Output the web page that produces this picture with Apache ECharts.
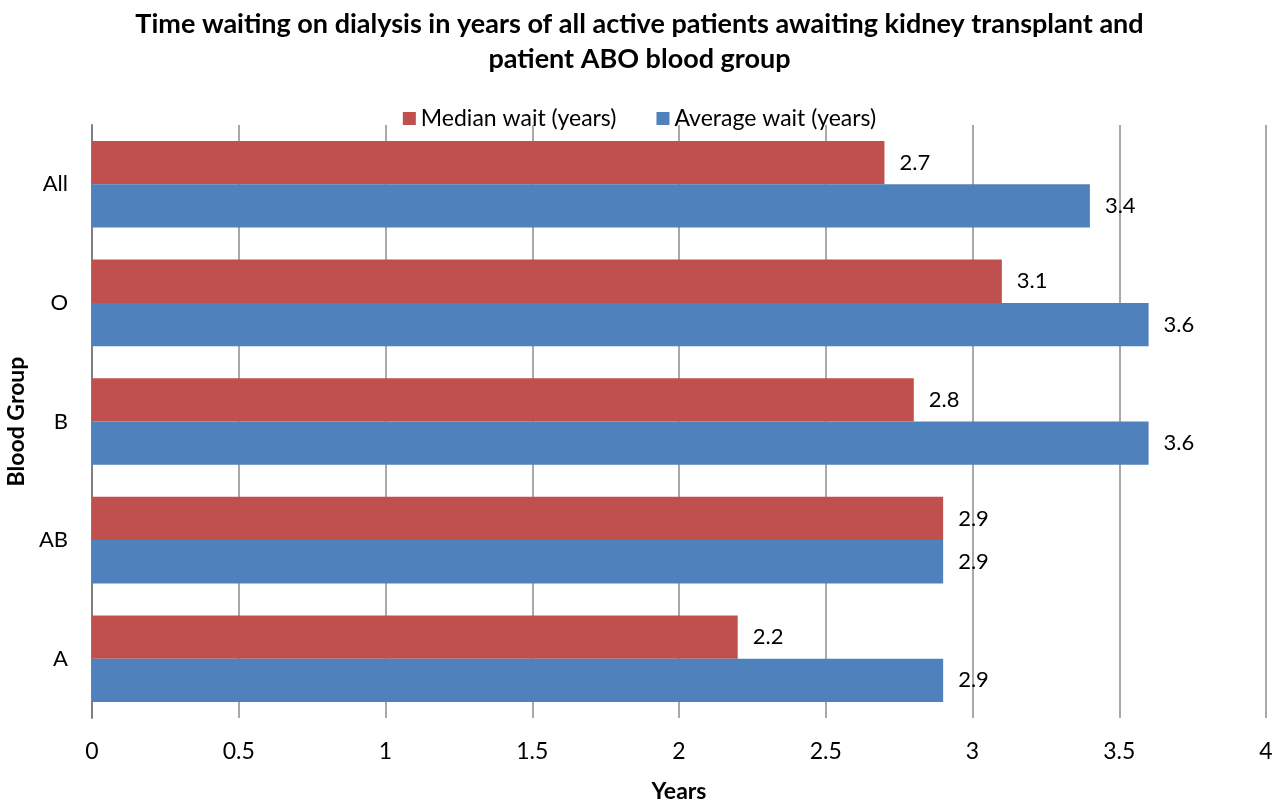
<!DOCTYPE html>
<html>
<head>
<meta charset="utf-8">
<script src="https://cdn.jsdelivr.net/npm/echarts@6/dist/echarts.min.js"></script>
<style>
html, body { margin: 0; padding: 0; background: #fff; }
#main { width: 1279px; height: 801px; }
</style>
</head>
<body>
<div id="main"></div>
<script>
// categories bottom to top (category y axis starts at the bottom)
var groups = ['A', 'AB', 'B', 'O', 'All'];
var medianWait = [2.2, 2.9, 2.8, 3.1, 2.7];
var averageWait = [2.9, 2.9, 3.6, 3.6, 3.4];
var xTicks = [0, 0.5, 1, 1.5, 2, 2.5, 3, 3.5, 4];

var font = 'Lato, "Open Sans", sans-serif';

var myChart = echarts.init(document.getElementById('main'));

var labelStyle = {
    show: true,
    position: 'right',
    distance: 15,
    fontSize: 22,
    fontFamily: font,
    color: '#000'
};

var option = {
    animation: false,
    title: {
        text: 'Time waiting on dialysis in years of all active patients awaiting kidney transplant and\npatient ABO blood group',
        left: 'center',
        top: 2,
        textStyle: {
            fontFamily: font,
            fontSize: 27,
            fontWeight: 'bold',
            color: '#000',
            lineHeight: 35
        }
    },
    legend: {
        data: ['Median wait (years)', 'Average wait (years)'],
        top: 102,
        left: 'center',
        itemWidth: 13,
        itemHeight: 13,
        itemGap: 40,
        icon: 'rect',
        textStyle: { fontFamily: font, fontSize: 23, color: '#000' }
    },
    grid: {
        left: 92,
        right: 13,
        top: 125,
        bottom: 83,
        outerBoundsMode: 'none'
    },
    xAxis: {
        type: 'value',
        min: 0,
        max: 4,
        interval: 0.5,
        name: 'Years',
        nameLocation: 'middle',
        nameGap: 62,
        nameTextStyle: { fontFamily: font, fontSize: 23, fontWeight: 'bold', color: '#000' },
        axisLine: { show: false },
        axisTick: { show: false },
        axisLabel: {
            fontFamily: font, fontSize: 23, color: '#000', margin: 22,
            formatter: function (v) { return xTicks.indexOf(v) >= 0 ? String(v) : ''; }
        },
        splitLine: { show: true, lineStyle: { color: '#8c8c8c', width: 1.5 } }
    },
    yAxis: {
        type: 'category',
        data: groups,
        name: 'Blood Group',
        nameLocation: 'middle',
        nameGap: 62,
        nameRotate: 90,
        nameTextStyle: { fontFamily: font, fontSize: 23, fontWeight: 'bold', color: '#000' },
        axisLine: { show: true, lineStyle: { color: '#7f7f7f', width: 2 } },
        axisTick: { show: false },
        axisLabel: { fontFamily: font, fontSize: 22, color: '#000', margin: 24 }
    },
    series: [
        {
            name: 'Median wait (years)',
            type: 'bar',
            data: medianWait,
            barCategoryGap: '27%',
            barGap: '0%',
            itemStyle: { color: '#C0504D' },
            label: labelStyle,
            z: 3
        },
        {
            name: 'Average wait (years)',
            type: 'bar',
            data: averageWait,
            barCategoryGap: '27%',
            barGap: '0%',
            itemStyle: { color: '#4F81BD' },
            label: labelStyle,
            z: 3
        }
    ]
};

myChart.setOption(option);
</script>
</body>
</html>
